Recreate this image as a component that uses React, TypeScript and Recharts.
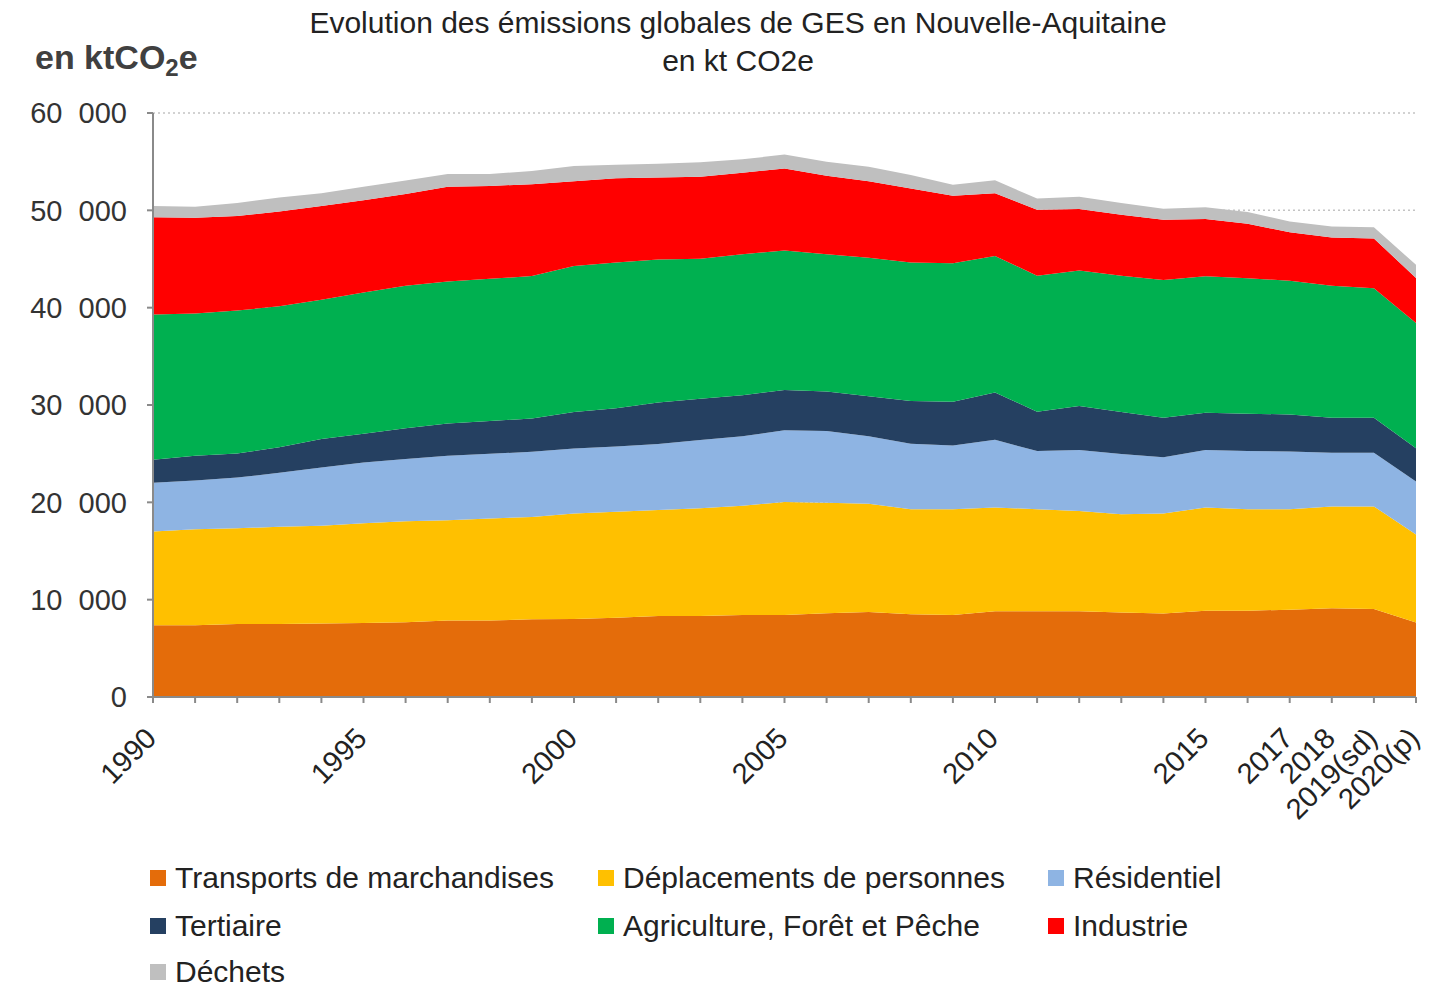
import { AreaChart, Area, XAxis, YAxis, CartesianGrid } from 'recharts';

// années et libellés d'axe (vide = graduation sans libellé)
const years = [
  '1990', '1991', '1992', '1993', '1994', '1995', '1996', '1997', '1998', '1999',
  '2000', '2001', '2002', '2003', '2004', '2005', '2006', '2007', '2008', '2009',
  '2010', '2011', '2012', '2013', '2014', '2015', '2016', '2017', '2018', '2019', '2020',
];
const yearLabels = [
  '1990', '', '', '', '', '1995', '', '', '', '',
  '2000', '', '', '', '', '2005', '', '', '', '',
  '2010', '', '', '', '', '2015', '', '2017', '2018', '2019(sd)', '2020(p)',
];

// émissions par secteur, kt CO2e
const transports = [
  7380, 7380, 7490, 7490, 7560, 7600, 7680, 7860, 7860, 7980,
  8010, 8130, 8310, 8310, 8430, 8430, 8610, 8730, 8500, 8430,
  8800, 8800, 8800, 8690, 8590, 8870, 8870, 8970, 9110, 9040, 7650,
];
const deplacements = [
  9620, 9850, 9850, 10000, 10040, 10260, 10370, 10300, 10490, 10520,
  10830, 10890, 10900, 11090, 11230, 11610, 11350, 11120, 10790, 10860,
  10670, 10500, 10320, 10090, 10260, 10600, 10430, 10330, 10470, 10540, 9040,
];
const residentiel = [
  5020, 5020, 5210, 5540, 5990, 6220, 6400, 6630, 6630, 6700,
  6700, 6710, 6780, 7000, 7120, 7370, 7380, 6930, 6740, 6550,
  6950, 5980, 6260, 6180, 5770, 5910, 5980, 5910, 5520, 5520, 5460,
];
const tertiaire = [
  2360, 2540, 2470, 2620, 2920, 2960, 3150, 3300, 3370, 3410,
  3750, 3930, 4270, 4230, 4230, 4120, 4040, 4120, 4380, 4490,
  4870, 4030, 4520, 4320, 4070, 3830, 3820, 3820, 3590, 3590, 3410,
];
const agriculture = [
  14910, 14610, 14680, 14500, 14310, 14530, 14640, 14600, 14610, 14640,
  14980, 14980, 14680, 14390, 14490, 14350, 14120, 14230, 14230, 14240,
  14010, 13980, 13910, 14010, 14150, 14010, 13910, 13740, 13560, 13310, 12860,
];
const industrie = [
  10000, 9850, 9730, 9730, 9630, 9470, 9440, 9740, 9550, 9440,
  8720, 8650, 8430, 8420, 8350, 8420, 8050, 7860, 7600, 6920,
  6450, 6780, 6330, 6260, 6190, 5880, 5600, 4970, 4970, 5110, 4630,
];
const dechets = [
  1160, 1120, 1320, 1430, 1310, 1390, 1390, 1310, 1230, 1350,
  1570, 1390, 1420, 1500, 1390, 1430, 1430, 1500, 1390, 1130,
  1330, 1150, 1250, 1210, 1140, 1210, 1220, 1110, 1110, 1150, 1350,
];

const yTicks = [0, 10000, 20000, 30000, 40000, 50000, 60000];

const series = [
  { key: 'transports', name: 'Transports de marchandises', color: '#E46C0A' },
  { key: 'deplacements', name: 'Déplacements de personnes', color: '#FFC000' },
  { key: 'residentiel', name: 'Résidentiel', color: '#8EB4E3' },
  { key: 'tertiaire', name: 'Tertiaire', color: '#254061' },
  { key: 'agriculture', name: 'Agriculture, Forêt et Pêche', color: '#00B050' },
  { key: 'industrie', name: 'Industrie', color: '#FF0000' },
  { key: 'dechets', name: 'Déchets', color: '#BFBFBF' },
];

const data = years.map((year, i) => ({
  year,
  transports: transports[i],
  deplacements: deplacements[i],
  residentiel: residentiel[i],
  tertiaire: tertiaire[i],
  agriculture: agriculture[i],
  industrie: industrie[i],
  dechets: dechets[i],
}));

const FONT = "'Liberation Sans', Arial, sans-serif";
const AXIS = '#8a8a8a';

function XTick(props: any) {
  const { x, y, index } = props;
  const label = yearLabels[index];
  if (!label) return null;
  return (
    <g transform={`translate(${x + 5},${y + 37}) rotate(-45)`}>
      <text textAnchor="end" fontSize={29} fontFamily={FONT} fill="#222">
        {label}
      </text>
    </g>
  );
}

const fmtY = (v: number) => (v === 0 ? '0' : `${v / 1000}\u2007000`);

const legendRows = [888, 936, 982];

export default function App() {
  return (
    <div style={{ position: 'absolute', left: 0, top: 0, width: 1445, height: 989, background: '#fff' }}>
      <AreaChart
        width={1445}
        height={989}
        data={data}
        margin={{ top: 113, right: 29, left: 20, bottom: 232 }}
      >
        <CartesianGrid vertical={false} stroke="#c4c4c4" strokeWidth={1.5} strokeDasharray="2 3" />
        <XAxis
          dataKey="year"
          interval={0}
          height={60}
          tickSize={6}
          tickMargin={0}
          axisLine={{ stroke: AXIS, strokeWidth: 2 }}
          tickLine={{ stroke: AXIS, strokeWidth: 2 }}
          tick={<XTick />}
        />
        <YAxis
          width={133}
          domain={[0, 60000]}
          ticks={yTicks}
          interval={0}
          tickFormatter={fmtY}
          tickSize={6}
          tickMargin={20}
          axisLine={{ stroke: AXIS, strokeWidth: 2 }}
          tickLine={{ stroke: AXIS, strokeWidth: 2 }}
          tick={{ fontSize: 29, fontFamily: FONT, fill: '#333' }}
        />
        {series.map((s) => (
          <Area
            key={s.key}
            type="linear"
            dataKey={s.key}
            name={s.name}
            stackId="ges"
            stroke="none"
            fill={s.color}
            fillOpacity={1}
            dot={false}
            activeDot={false}
            isAnimationActive={false}
          />
        ))}
      </AreaChart>

      <svg
        width={1445}
        height={989}
        style={{ position: 'absolute', left: 0, top: 0, pointerEvents: 'none' }}
        fontFamily={FONT}
      >
        <text x={738} y={33} textAnchor="middle" fontSize={30} fill="#222">
          Evolution des émissions globales de GES en Nouvelle-Aquitaine
        </text>
        <text x={738} y={71} textAnchor="middle" fontSize={30} fill="#222">
          en kt CO2e
        </text>
        <text x={35} y={69} fontSize={34} fontWeight="bold" fill="#404040">
          en ktCO<tspan fontSize={24} dy={7}>2</tspan>
          <tspan dy={-7}>e</tspan>
        </text>
        {series.map((s, i) => {
          const col = i % 3;
          const row = Math.floor(i / 3);
          const x = [150, 598, 1048][col];
          const base = legendRows[row];
          return (
            <g key={s.key}>
              <rect x={x} y={base - 18} width={16} height={16} fill={s.color} />
              <text x={x + 25} y={base} fontSize={30} fill="#222">
                {s.name}
              </text>
            </g>
          );
        })}
      </svg>
    </div>
  );
}
